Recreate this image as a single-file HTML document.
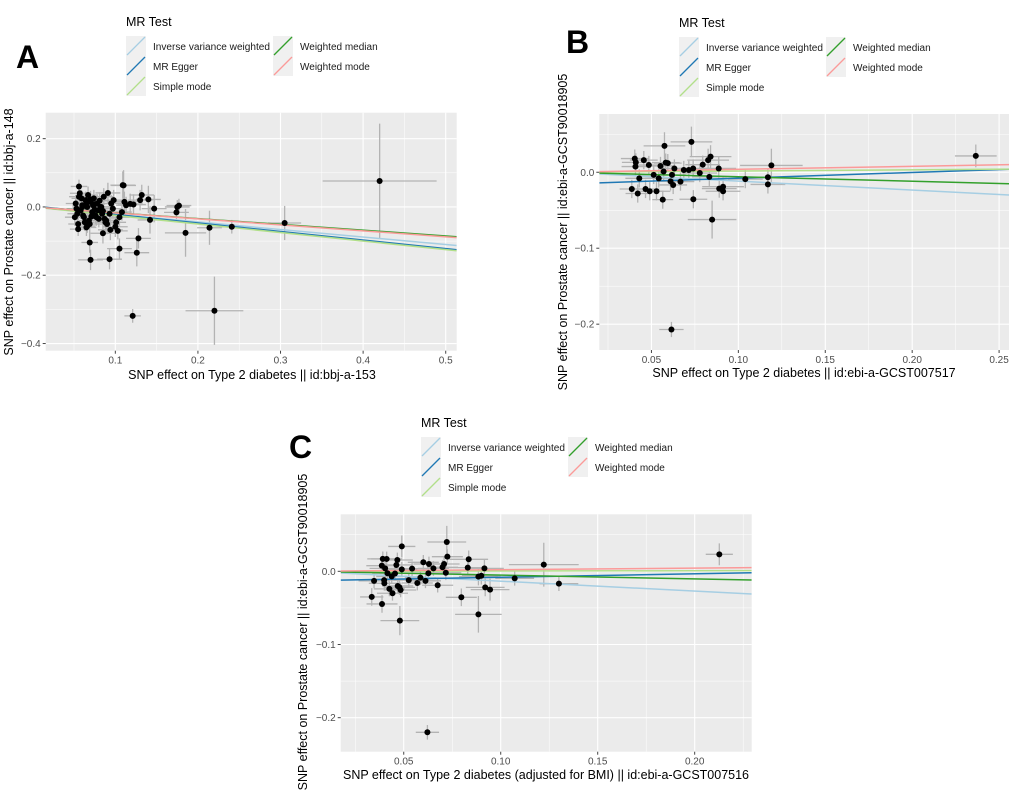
<!DOCTYPE html>
<html><head><meta charset="utf-8">
<style>
body{margin:0;background:#fff;}
#root{position:relative;width:1020px;height:802px;overflow:hidden;}
svg{position:absolute;left:0;top:0;font-family:"Liberation Sans",sans-serif;}
</style></head>
<body>
<div id="root">
<svg id="fig" width="1020" height="802"></svg>
</div>
<script>
// ---------- Panel A data ----------
const aX=[0.420,0.220,0.121,0.305,0.241,0.214,0.185,0.175,0.177,0.174,0.147,0.140,0.142,0.132,0.130,0.128,0.126,0.110,0.105,0.093,0.070,0.069,0.111,0.118,0.122,0.098,0.091,0.085,0.094,0.100,0.090,0.066,0.055,0.056,0.109,
0.052,0.054,0.056,0.058,0.060,0.062,0.064,0.066,0.068,0.070,0.072,0.074,0.076,0.078,0.080,0.082,0.084,0.086,0.088,0.053,0.057,0.061,0.065,0.069,0.073,0.077,0.081,0.085,0.089,0.093,0.097,0.101,0.105,0.051,0.059,0.063,0.067,0.071,0.075,0.079,0.083,0.087,0.095,0.103,0.108,0.113,0.055,0.060,0.065,0.070,0.075];
const aY=[0.076,-0.304,-0.319,-0.047,-0.058,-0.061,-0.076,0.000,0.004,-0.016,-0.005,0.022,-0.038,0.035,0.020,-0.092,-0.134,0.063,-0.122,-0.153,-0.155,-0.104,0.015,0.009,0.007,0.020,0.041,-0.077,-0.067,-0.058,-0.050,-0.056,-0.065,0.060,0.064,
0.010,-0.020,0.030,-0.010,0.005,-0.030,0.020,0.000,-0.040,0.015,-0.015,0.025,-0.025,0.010,-0.035,0.000,-0.020,0.030,-0.045,-0.005,0.040,-0.025,0.012,-0.050,0.005,-0.030,0.018,-0.012,-0.040,-0.020,-0.005,-0.045,-0.030,-0.030,0.025,-0.045,0.035,-0.028,0.008,-0.010,0.000,-0.035,0.010,-0.070,-0.015,0.005,-0.050,0.000,-0.060,0.022,-0.008];
const aSX=[0.069,0.035,0.010,0.020,0.015,0.015,0.025,0.015,0.015,0.015,0.015,0.015,0.015,0.015,0.015,0.015,0.015,0.015,0.015,0.015,0.015,0.010,0.015,0.015,0.015,0.015,0.015,0.015,0.015,0.015,0.015,0.010,0.010,0.010,0.015];
const aSY=[0.168,0.100,0.020,0.050,0.020,0.050,0.070,0.020,0.020,0.020,0.040,0.040,0.040,0.030,0.030,0.030,0.040,0.045,0.030,0.030,0.030,0.030,0.030,0.030,0.030,0.030,0.030,0.030,0.030,0.030,0.030,0.020,0.020,0.020,0.040];
const aSlope=[-0.22,-0.25,-0.25,-0.17,-0.175];
const aInt=[0,0.003,0,0,0];
// ---------- Panel B data ----------
const bX=[0.2366,0.0615,0.0849,0.0741,0.0565,0.0730,0.0575,0.119,0.117,0.117,0.104,0.0912,0.0912,0.089,0.0887,0.084,0.0826,0.0795,0.0778,0.0833,0.0404,0.0408,0.041,0.0456,0.0387,0.0421,0.0466,0.049,0.0529,0.043,0.0485,0.0552,0.0582,0.0594,0.0632,0.0667,0.0625,0.061,0.0686,0.0715,0.074,0.0513,0.0542,0.057,0.0618];
const bY=[0.0215,-0.207,-0.0623,-0.0355,-0.036,0.040,0.0347,0.009,-0.0066,-0.016,-0.009,-0.019,-0.025,-0.0215,0.005,0.0206,0.016,0.010,-0.001,-0.006,0.018,0.0075,0.013,0.016,-0.022,-0.028,-0.022,-0.025,-0.025,-0.008,0.0096,0.0083,0.0127,0.012,0.005,-0.0123,-0.0167,-0.012,0.003,0.003,0.005,-0.0035,-0.008,0.001,-0.0035];
const bSX=[0.012,0.007,0.014,0.008,0.006,0.012,0.012,0.018,0.010,0.010,0.010,0.012,0.010,0.010,0.010,0.012,0.012,0.010,0.010,0.010,0.008,0.008,0.008,0.008,0.007,0.007,0.008,0.008,0.008,0.008,0.008,0.008,0.008,0.008,0.008,0.008,0.008,0.008,0.008,0.008,0.008,0.008,0.008,0.008,0.008];
const bSY=[0.015,0.010,0.025,0.012,0.012,0.020,0.018,0.022,0.012,0.012,0.012,0.012,0.012,0.012,0.015,0.015,0.015,0.012,0.012,0.012,0.012,0.012,0.012,0.012,0.012,0.012,0.012,0.012,0.012,0.012,0.012,0.012,0.012,0.012,0.012,0.012,0.012,0.012,0.012,0.012,0.012,0.012,0.012,0.012,0.012];
const bSlope=[-0.117,0.0764,0.016,-0.059,0.039];
const bInt=[0,-0.0155,0,0,0];
// ---------- Panel C data ----------
const cX=[0.2127,0.0622,0.0885,0.048,0.0388,0.0335,0.0797,0.0722,0.049,0.1222,0.130,0.1072,0.0835,0.083,0.0916,0.092,0.0945,0.0885,0.090,0.0675,0.0725,0.0708,0.070,0.0717,0.0601,0.0627,0.063,0.0653,0.0612,0.0586,0.057,0.0543,0.0526,0.049,0.0484,0.0478,0.0469,0.0467,0.0462,0.0442,0.0426,0.0412,0.0392,0.0387,0.040,0.0399,0.0347,0.0404,0.0416,0.0438,0.0455];
const cY=[0.0232,-0.22,-0.0588,-0.0674,-0.0446,-0.035,-0.0355,0.040,0.034,0.0091,-0.0169,-0.0096,0.0164,0.005,0.004,-0.022,-0.025,-0.0073,-0.006,-0.019,0.020,0.010,0.0055,-0.002,0.0123,-0.0027,0.010,0.004,-0.013,-0.0087,-0.016,0.0036,-0.012,0.0027,-0.0255,-0.022,-0.020,0.0155,0.0087,-0.030,-0.024,0.0169,0.017,0.0077,-0.0164,-0.012,-0.013,0.004,-0.0027,-0.007,-0.003];
const cSX=[0.007,0.006,0.012,0.010,0.008,0.006,0.008,0.010,0.007,0.018,0.010,0.010,0.010,0.010,0.010,0.010,0.010,0.010,0.010,0.008,0.008,0.008,0.008,0.008,0.008,0.008,0.008,0.008,0.008,0.008,0.008,0.008,0.008,0.008,0.008,0.008,0.008,0.008,0.008,0.008,0.008,0.008,0.008,0.008,0.008,0.008,0.008,0.008,0.008,0.008,0.008];
const cSY=[0.015,0.010,0.025,0.020,0.012,0.012,0.012,0.022,0.015,0.030,0.010,0.010,0.012,0.012,0.012,0.012,0.015,0.012,0.012,0.010,0.010,0.010,0.010,0.010,0.010,0.010,0.010,0.010,0.010,0.010,0.010,0.010,0.010,0.010,0.010,0.010,0.010,0.010,0.010,0.010,0.010,0.010,0.010,0.010,0.010,0.010,0.010,0.010,0.010,0.010,0.010];
const cSlope=[-0.135,0.047,0.004,-0.052,0.022];
const cInt=[0,-0.0128,0,0,0];

const methods=["Inverse variance weighted","MR Egger","Simple mode","Weighted median","Weighted mode"];
const colors=["#a6cee3","#1f78b4","#b2df8a","#33a02c","#fb9a99"];
const NS="http://www.w3.org/2000/svg";
const svg=document.getElementById('fig');
function mk(tag,attrs,parent){const e=document.createElementNS(NS,tag);for(const k in attrs)e.setAttribute(k,attrs[k]);(parent||svg).appendChild(e);return e;}

function panel(p){
  const g=mk('g',{});
  
  
  const sx=v=>p.x0+(v-p.xmin)/(p.xmax-p.xmin)*(p.x1-p.x0);
  const sy=v=>p.y1-(v-p.ymin)/(p.ymax-p.ymin)*(p.y1-p.y0);
  const bg=mk('rect',{x:p.x0,y:p.y0,width:p.x1-p.x0,height:p.y1-p.y0,fill:'#ebebeb'},g);
  
  
  p.xminor.forEach(v=>mk('line',{x1:sx(v),x2:sx(v),y1:p.y0,y2:p.y1,stroke:'#fff','stroke-width':0.5},g));
  p.yminor.forEach(v=>mk('line',{x1:p.x0,x2:p.x1,y1:sy(v),y2:sy(v),stroke:'#fff','stroke-width':0.5},g));
  p.xt.forEach((v,i)=>{
    mk('line',{x1:sx(v),x2:sx(v),y1:p.y0,y2:p.y1,stroke:'#fff','stroke-width':1.1},g);
    mk('line',{x1:sx(v),x2:sx(v),y1:p.y1,y2:p.y1+3,stroke:'#444','stroke-width':1},g);
    const t=mk('text',{x:sx(v),y:p.y1+13,'font-size':10,fill:'#4d4d4d','text-anchor':'middle'},g);
    t.textContent=p.xl[i];
    
    
  });
  p.yt.forEach((v,i)=>{
    mk('line',{x1:p.x0,x2:p.x1,y1:sy(v),y2:sy(v),stroke:'#fff','stroke-width':1.1},g);
    mk('line',{x1:p.x0-3,x2:p.x0,y1:sy(v),y2:sy(v),stroke:'#444','stroke-width':1},g);
    const t=mk('text',{x:p.x0-5,y:sy(v)+3.5,'font-size':10,fill:'#4d4d4d','text-anchor':'end'},g);
    t.textContent=p.yl[i];
    
    
  });
  const cid='clip'+p.id;
  const cp=mk('clipPath',{id:cid},g);
  mk('rect',{x:p.x0,y:p.y0,width:p.x1-p.x0,height:p.y1-p.y0},cp);
  const dg=mk('g',{'clip-path':'url(#'+cid+')'},g);
  p.X.forEach((x,i)=>{
    const y=p.Y[i], ex=p.SX[i]!==undefined?p.SX[i]:p.defSX, ey=p.SY[i]!==undefined?p.SY[i]:p.defSY;
    const l1=mk('line',{x1:sx(x-ex),x2:sx(x+ex),y1:sy(y),y2:sy(y),stroke:'#b3b3b3','stroke-width':1.3},dg);
    
    
    const l2=mk('line',{x1:sx(x),x2:sx(x),y1:sy(y-ey),y2:sy(y+ey),stroke:'#b3b3b3','stroke-width':1.3},dg);
    
    
  });
  p.slope.forEach((s,i)=>{
    const ln=mk('line',{x1:sx(p.xmin),y1:sy(p.inter[i]+s*p.xmin),x2:sx(p.xmax),y2:sy(p.inter[i]+s*p.xmax),stroke:colors[i],'stroke-width':1.5},dg);
    
    
  });
  p.X.forEach((x,i)=>{
    const c=mk('circle',{cx:sx(x),cy:sy(p.Y[i]),r:3,fill:'#000'},dg);
    
    
  });
  const xt=mk('text',{x:p.xtx,y:p.xty,'font-size':12.5,fill:'#000','text-anchor':'middle'},g);
  xt.textContent=p.xtitle;
  
  
  const yt=mk('text',{x:0,y:0,'font-size':12.5,fill:'#000','text-anchor':'middle',transform:`translate(${p.ytx},${p.yty}) rotate(-90)`},g);
  yt.textContent=p.ytitle;
  
  
  const pl=mk('text',{x:p.lx,y:p.ly,'font-size':32,'font-weight':'bold',fill:'#000'},g);
  pl.textContent=p.id;
  
  
  const lg=mk('g',{},g);
  
  
  const tt=mk('text',{x:p.legx,y:p.legy,'font-size':12.5,fill:'#000'},lg);
  tt.textContent='MR Test';
  
  
  const pos=[[0,0],[0,1],[0,2],[1,0],[1,1]];
  methods.forEach((m,i)=>{
    const kx=p.legx+pos[i][0]*p.legcol, ky=p.legy+10+pos[i][1]*20;
    const e=mk('g',{},lg);
    
    
    mk('rect',{x:kx,y:ky,width:20,height:20,fill:'#f0f0f0'},e);
    mk('line',{x1:kx+1,y1:ky+19,x2:kx+19,y2:ky+1,stroke:colors[i],'stroke-width':1.3},e);
    const t=mk('text',{x:kx+27,y:ky+14,'font-size':10,fill:'#1a1a1a',textLength:pos[i][0]===0&&i===0?118:null},e);
    if(i===0){t.setAttribute('textLength','117');t.setAttribute('lengthAdjust','spacingAndGlyphs');} else t.removeAttribute('textLength');
    t.textContent=m;
  });
}

panel({id:'A',x0:45.7,x1:456.7,y0:112.7,y1:350.7,xmin:0.0157,xmax:0.5133,ymin:-0.421,ymax:0.276,
  xt:[0.1,0.2,0.3,0.4,0.5],xl:["0.1","0.2","0.3","0.4","0.5"],xminor:[0.05,0.15,0.25,0.35,0.45],
  yt:[-0.4,-0.2,0,0.2],yl:["\u22120.4","\u22120.2","0.0","0.2"],yminor:[-0.3,-0.1,0.1],
  X:aX,Y:aY,SX:aSX,SY:aSY,defSX:0.012,defSY:0.025,slope:aSlope,inter:aInt,
  xtitle:"SNP effect on Type 2 diabetes || id:bbj-a-153",xtx:252,xty:379,
  ytitle:"SNP effect on Prostate cancer || id:bbj-a-148",ytx:13,yty:232,
  lx:16,ly:68,legx:126,legy:26,legcol:147});
panel({id:'B',x0:599.3,x1:1009,y0:114,y1:350,xmin:0.020,xmax:0.2557,ymin:-0.234,ymax:0.0767,
  xt:[0.05,0.10,0.15,0.20,0.25],xl:["0.05","0.10","0.15","0.20","0.25"],xminor:[0.025,0.075,0.125,0.175,0.225],
  yt:[-0.2,-0.1,0],yl:["\u22120.2","\u22120.1","0.0"],yminor:[-0.15,-0.05,0.05],
  X:bX,Y:bY,SX:bSX,SY:bSY,defSX:0.008,defSY:0.012,slope:bSlope,inter:bInt,
  xtitle:"SNP effect on Type 2 diabetes || id:ebi-a-GCST007517",xtx:804,xty:377,
  ytitle:"SNP effect on Prostate cancer || id:ebi-a-GCST90018905",ytx:567,yty:232,
  lx:566,ly:53,legx:679,legy:27,legcol:147});
panel({id:'C',x0:340.7,x1:751.7,y0:514.3,y1:751.7,xmin:0.0175,xmax:0.2294,ymin:-0.2465,ymax:0.0779,
  xt:[0.05,0.10,0.15,0.20],xl:["0.05","0.10","0.15","0.20"],xminor:[0.025,0.075,0.125,0.175,0.225],
  yt:[-0.2,-0.1,0],yl:["\u22120.2","\u22120.1","0.0"],yminor:[-0.15,-0.05,0.05],
  X:cX,Y:cY,SX:cSX,SY:cSY,defSX:0.008,defSY:0.01,slope:cSlope,inter:cInt,
  xtitle:"SNP effect on Type 2 diabetes (adjusted for BMI) || id:ebi-a-GCST007516",xtx:546,xty:779,
  ytitle:"SNP effect on Prostate cancer || id:ebi-a-GCST90018905",ytx:307,yty:632,
  lx:289,ly:458,legx:421,legy:427,legcol:147});
</script>
</body></html>
